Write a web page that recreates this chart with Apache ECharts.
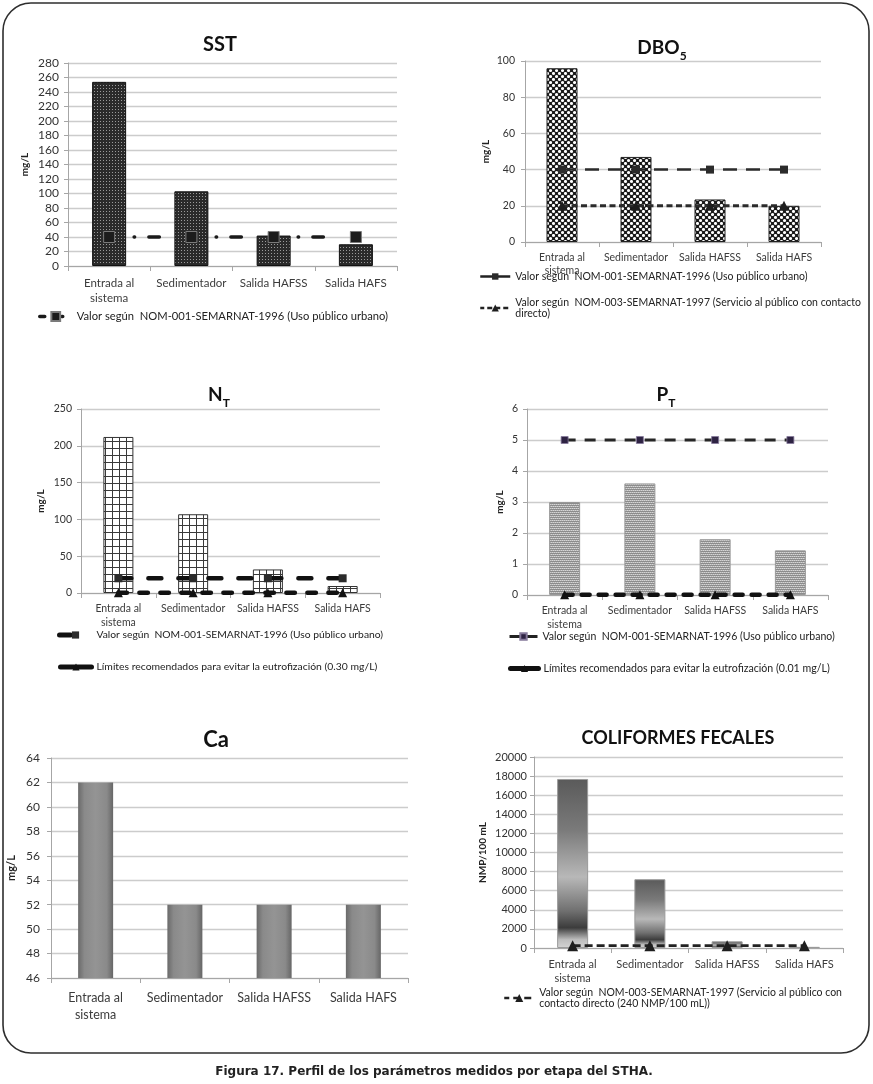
<!DOCTYPE html>
<html><head><meta charset="utf-8">
<script src="https://cdn.jsdelivr.net/npm/echarts@6/dist/echarts.min.js"></script>
<style>html,body{margin:0;padding:0;background:#fff}#c{width:873px;height:1084px}</style>
</head><body><div id="c"></div>
<script>
// ---------------- data ----------------
const categories = ['Entrada al\nsistema', 'Sedimentador', 'Salida HAFSS', 'Salida HAFS'];
const sstValues = [254, 103, 42, 30];
const sstNom001 = [40, 40, 40, 40];
const dboValues = [96, 47, 23.5, 20];
const dboNom001 = [40, 40, 40, 40];
const dboNom003 = [20, 20, 20, 20];
const ntValues = [212, 107, 32, 9.5];
const ntNom001 = [20, 20, 20, 20];
const ntEutro = [0.3, 0.3, 0.3, 0.3];
const ptValues = [3.0, 3.6, 1.8, 1.44];
const ptNom001 = [5, 5, 5, 5];
const ptEutro = [0.01, 0.01, 0.01, 0.01];
const caValues = [62, 52, 52, 52];
const cfValues = [17700, 7200, 700, 120];
const cfNom003 = [240, 240, 240, 240];

const nameNom001 = 'Valor según  NOM-001-SEMARNAT-1996 (Uso público urbano)';
const nameNom003 = 'Valor según  NOM-003-SEMARNAT-1997 (Servicio al público con contacto\ndirecto)';
const nameNtEutro = 'Límites recomendados para evitar la eutrofización (0.30 mg/L)';
const namePtEutro = 'Límites recomendados para evitar la eutrofización (0.01 mg/L)';
const nameCfNom003 = 'Valor según  NOM-003-SEMARNAT-1997 (Servicio al público con\ncontacto directo (240 NMP/100 mL))';

// ---------------- styling helpers ----------------
const FONT = 'Lato';
function pattern(w, h, fn) {
  const c = document.createElement('canvas');
  c.width = w; c.height = h;
  const g = c.getContext('2d');
  fn(g);
  return { image: c, repeat: 'repeat' };
}
const patSST = pattern(3, 3, g => { g.fillStyle = '#2a2a2a'; g.fillRect(0, 0, 3, 3); g.fillStyle = '#9a9a9a'; g.fillRect(1, 1, 1, 1); });
const patDBO = pattern(6, 6, g => {
  g.fillStyle = '#1a1a1a'; g.fillRect(0, 0, 6, 6);
  g.fillStyle = '#ffffff';
  [[1.5, 1.5], [4.5, 4.5], [-1.5, 4.5], [7.5, 1.5]].forEach(p => { g.beginPath(); g.arc(p[0], p[1], 1.55, 0, Math.PI * 2); g.fill(); });
});
const patNT = pattern(7, 7, g => { g.fillStyle = '#ffffff'; g.fillRect(0, 0, 7, 7); g.fillStyle = '#3a3a3a'; g.fillRect(0, 0, 7, 1); g.fillRect(0, 0, 1, 7); });
const patPT = pattern(4, 4, g => {
  g.fillStyle = '#8c8c8c'; g.fillRect(0, 0, 4, 4);
  g.fillStyle = '#d6d6d6';
  g.fillRect(0, 0, 1, 1); g.fillRect(2, 0, 1, 1); g.fillRect(1, 2, 1, 1); g.fillRect(3, 2, 1, 1);
  g.fillStyle = '#b4b4b4';
  g.fillRect(1, 0, 1, 1); g.fillRect(3, 0, 1, 1); g.fillRect(0, 2, 1, 1); g.fillRect(2, 2, 1, 1);
});
const gradCa = new echarts.graphic.LinearGradient(0, 0, 1, 0, [
  { offset: 0, color: '#6a6a6a' }, { offset: 0.18, color: '#8a8a8a' },
  { offset: 0.5, color: '#949494' }, { offset: 0.82, color: '#8a8a8a' }, { offset: 1, color: '#666666' }]);
const gradCF = new echarts.graphic.LinearGradient(0, 0, 0, 1, [
  { offset: 0, color: '#5a5a5a' }, { offset: 0.3, color: '#7a7a7a' }, { offset: 0.58, color: '#b8b8b8' },
  { offset: 0.78, color: '#707070' }, { offset: 0.88, color: '#3c3c3c' }, { offset: 0.95, color: '#bdbdbd' }, { offset: 1, color: '#d4d4d4' }]);

const AX = '#a6a6a6';
const grids = [
  { left: 68, top: 63, width: 329, height: 203 },
  { left: 525, top: 61, width: 296, height: 181 },
  { left: 81, top: 409, width: 299, height: 184 },
  { left: 527, top: 409, width: 301, height: 186 },
  { left: 51, top: 758, width: 357, height: 220 },
  { left: 534, top: 757, width: 309, height: 191 }
];
function xAxis(i, fs, margin, lh) {
  return {
    type: 'category', gridIndex: i, data: categories,
    axisLine: { lineStyle: { color: AX } },
    axisTick: { show: true, length: 5, lineStyle: { color: AX } },
    axisLabel: { interval: 0, fontSize: fs, margin: margin, color: '#3c3c3c', fontFamily: FONT, lineHeight: lh }
  };
}
function yAxis(i, min, max, interval, name, nameGap, fs, margin, nfs) {
  return {
    type: 'value', gridIndex: i, min: min, max: max, interval: interval,
    name: name, nameLocation: 'middle', nameGap: nameGap,
    nameTextStyle: { fontWeight: 'bold', fontSize: nfs || 10, fontFamily: FONT, color: '#222' },
    axisLine: { show: true, lineStyle: { color: AX } },
    axisTick: { show: true, length: 4, lineStyle: { color: AX } },
    splitLine: { lineStyle: { color: '#cccccc', width: 1.3 } },
    axisLabel: { fontSize: fs, margin: margin, color: '#333', fontFamily: FONT, formatter: v => String(v) }
  };
}
function bar(i, data, width, color, border) {
  return { type: 'bar', xAxisIndex: i, yAxisIndex: i, data: data, barWidth: width, silent: true,
    itemStyle: { color: color, borderColor: border || 'transparent', borderWidth: border ? 1 : 0 } };
}
function line(i, name, data, symbol, size, itemStyle, lineStyle) {
  return { type: 'line', name: name, xAxisIndex: i, yAxisIndex: i, data: data, symbol: symbol, symbolSize: size,
    itemStyle: itemStyle, lineStyle: lineStyle, silent: true, z: 5 };
}
function title(x, y, text, fs, rich) {
  return { text: text, left: x, top: y, textAlign: 'center', padding: 0,
    textStyle: { fontSize: fs, fontWeight: 'bold', color: '#111', fontFamily: FONT, rich: rich } };
}
const subRich = {
  m: { fontSize: 19, fontWeight: 'bold', color: '#111', fontFamily: FONT, lineHeight: 23 },
  s: { fontSize: 12, fontWeight: 'bold', color: '#111', fontFamily: FONT, lineHeight: 10, verticalAlign: 'bottom', padding: [0, 0, -3, 0] }
};
const stripName = n => n.replace(/#\d+$/, '');
function legend(x, y, name, iw, ih, ls, fs, extra) {
  return Object.assign({
    left: x, top: y, padding: 0, orient: 'vertical', itemWidth: iw, itemHeight: ih,
    data: [name], formatter: stripName, selectedMode: false,
    textStyle: { fontSize: fs, color: '#222', fontFamily: FONT },
    lineStyle: ls
  }, extra || {});
}

const option = {
  animation: false,
  backgroundColor: '#fff',
  title: [
    title(220, 35, 'SST', 20),
    title(662, 36, '{m|DBO}{s|5}', 19, subRich),
    title(219, 383, '{m|N}{s|T}', 19, subRich),
    title(666, 383, '{m|P}{s|T}', 19, subRich),
    title(216, 729, 'Ca', 22),
    title(678, 729, 'COLIFORMES FECALES', 18)
  ],
  grid: grids,
  xAxis: [
    xAxis(0, 11.5, 10, 15), xAxis(1, 10.5, 9, 13), xAxis(2, 10.5, 9, 14),
    xAxis(3, 10.5, 9, 14), xAxis(4, 12.5, 11, 17), xAxis(5, 11, 9, 14)
  ],
  yAxis: [
    yAxis(0, 0, 280, 20, 'mg/L', 38, 12, 9),
    yAxis(1, 0, 100, 20, 'mg/L', 34, 10.5, 10),
    yAxis(2, 0, 250, 50, 'mg/L', 35, 10.5, 9),
    yAxis(3, 0, 6, 1, 'mg/L', 22, 10.5, 9),
    yAxis(4, 46, 64, 2, 'mg/L', 34, 12, 11, 11),
    yAxis(5, 0, 20000, 2000, 'NMP/100 mL', 46, 11, 7)
  ],
  legend: [
    legend(38, 311, nameNom001 + '#1', 32, 11, { type: [12, 17, 1, 20], width: 3.5, cap: 'round', color: '#1a1a1a' }, 11.2),
    legend(479, 271, nameNom001 + '#2', 30, 8, { type: 'solid', width: 2.5, color: '#222' }, 10.5),
    legend(479, 297, nameNom003, 30, 9, { type: [5, 3], width: 2.5, color: '#222' }, 10.5),
    legend(57, 630, nameNom001 + '#3', 32, 9, { type: [14, 40], width: 5, cap: 'round', color: '#111' }, 10.3),
    legend(58, 662, nameNtEutro, 31, 9, { type: 'solid', width: 5, cap: 'round', color: '#111' }, 10.4),
    legend(508, 631, nameNom001 + '#4', 28, 8, { type: 'solid', width: 3, color: '#222' }, 10.5),
    legend(508, 663, namePtEutro, 28, 9, { type: 'solid', width: 5, cap: 'round', color: '#111' }, 10.6),
    legend(503, 987, nameCfNom003, 30, 10, { type: [7, 4], width: 2.5, color: '#222' }, 10.5)
  ],
  series: [
    bar(0, sstValues, 34, patSST, '#111'),
    line(0, nameNom001 + '#1', sstNom001, 'rect', 11, { color: '#1c1c1c', borderColor: '#7a7a7a', borderWidth: 1 },
      { color: '#1a1a1a', width: 3.5, type: [0.5, 14.25, 10.5, 56.75], dashOffset: 57, cap: 'round' }),

    bar(1, dboValues, 31, patDBO, '#222'),
    line(1, nameNom001 + '#2', dboNom001, 'rect', 8, { color: '#2b2b2b' },
      { color: '#2b2b2b', width: 2.5, type: [14, 9] }),
    line(1, nameNom003, dboNom003, 'triangle', 10, { color: '#1e1e1e' },
      { color: '#2b2b2b', width: 3, type: [6, 3.5] }),

    bar(2, ntValues, 30, patNT, '#333'),
    line(2, nameNom001 + '#3', ntNom001, 'rect', 8, { color: '#2b2b2b' },
      { color: '#111', width: 4.5, type: [13, 17], cap: 'round' }),
    line(2, nameNtEutro, ntEutro, 'triangle', 9, { color: '#111' },
      { color: '#111', width: 4.5, type: [8.5, 12.5], cap: 'round' }),

    bar(3, ptValues, 31, patPT, '#999'),
    line(3, nameNom001 + '#4', ptNom001, 'rect', 7, { color: '#2e2343', borderColor: '#85799a', borderWidth: 0.8 },
      { color: '#262626', width: 3, type: [11, 9] }),
    line(3, namePtEutro, ptEutro, 'triangle', 9, { color: '#111' },
      { color: '#111', width: 4.5, type: [8, 9], cap: 'round' }),

    bar(4, caValues, 35, gradCa, null),

    bar(5, cfValues, 31, gradCF, '#9a9a9a'),
    line(5, nameCfNom003, cfNom003, 'triangle', 11, { color: '#1e1e1e' },
      { color: '#222', width: 2.8, type: [8, 4] })
  ],
  graphic: [
    { type: 'rect', shape: { x: 3, y: 3, width: 866, height: 1050, r: 28 }, style: { fill: 'none', stroke: '#2e2e2e', lineWidth: 1.6 }, silent: true },
    { type: 'text', x: 434, y: 1072, style: { text: 'Figura 17. Perfil de los parámetros medidos por etapa del STHA.', fontFamily: 'DejaVu Sans', fontWeight: 'bold', fontSize: 12, fill: '#222', align: 'center', verticalAlign: 'middle' }, silent: true }
  ]
};
const chart = echarts.init(document.getElementById('c'), null, { renderer: 'canvas' });
chart.setOption(option);
</script>
</body></html>
